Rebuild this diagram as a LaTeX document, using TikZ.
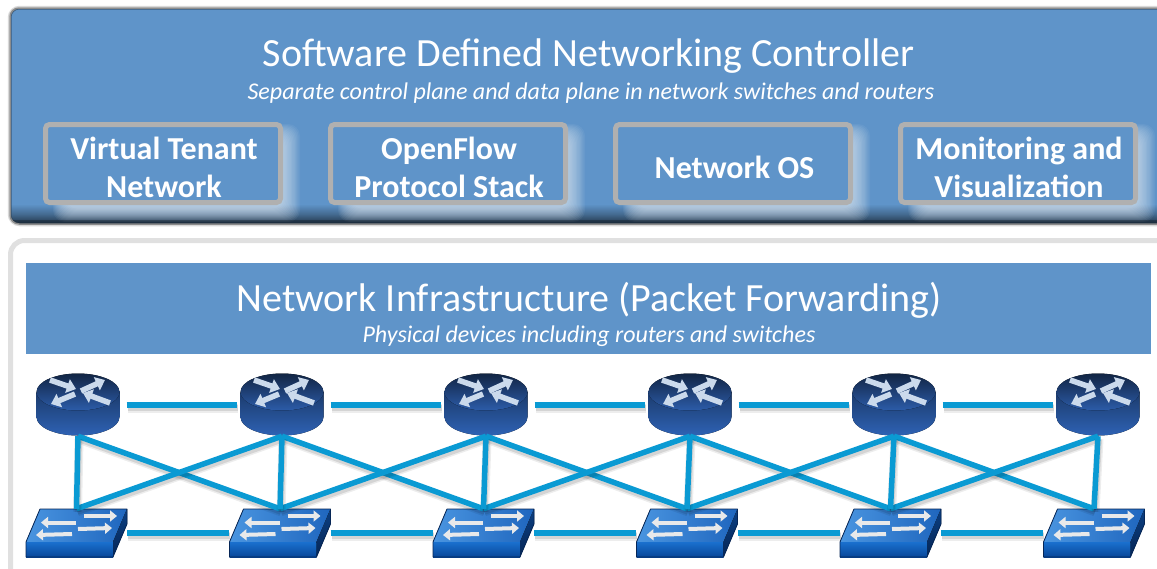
\documentclass[tikz,border=0pt]{standalone}
\usepackage{fontspec}
\setmainfont{Carlito}
\usetikzlibrary{arrows.meta}
\definecolor{panelblue}{HTML}{5F94C9}
\definecolor{linkblue}{HTML}{0A9AD3}
\definecolor{boxgray}{HTML}{B0B0B0}
\definecolor{routerarrow}{HTML}{CBDAEC}
\definecolor{switcharrow}{HTML}{E8E9EA}
\definecolor{routerside}{HTML}{2E62B4}
\definecolor{routertop}{HTML}{2C5CA9}
\definecolor{switchtopl}{HTML}{4A95E0}
\definecolor{switchtopr}{HTML}{1F66BE}
\definecolor{switchfrontt}{HTML}{1A70CE}
\definecolor{switchfrontb}{HTML}{08479A}
\definecolor{switchsidet}{HTML}{0B3F82}
\definecolor{switchsideb}{HTML}{062656}
\tikzset{
  x=1pt,y=-1pt,
  titletext/.style={text=white,font=\fontsize{40}{44}\selectfont,inner sep=0},
  subtext/.style={text=white,font=\itshape\fontsize{24}{28}\selectfont,inner sep=0},
  boxtext/.style={text=white,font=\bfseries\fontsize{32}{37.5}\selectfont,align=center,inner sep=0},
  modulebox/.style={draw=boxgray,line width=5pt,rounded corners=4pt,fill=panelblue,minimum width=235pt,minimum height=78pt,inner sep=0},
  routerbox/.style={minimum width=83pt,minimum height=62pt,inner sep=0},
  switchbox/.style={minimum width=101pt,minimum height=48pt,inner sep=0},
  link/.style={draw=linkblue,line width=5.5pt,
    preaction={draw=black,draw opacity=.07,line width=9pt,transform canvas={shift={(1pt,-3pt)}}},
    preaction={draw=black,draw opacity=.10,line width=6pt,transform canvas={shift={(1pt,-3pt)}}}},
  rarrow/.style={draw=routerarrow,line width=5.5pt,-{Triangle[length=9pt,width=14pt]}},
  sarrow/.style={draw=switcharrow,line width=4pt,-{Triangle[length=7pt,width=11pt]}},
}
\newcommand{\drawrouter}[1]{%
  \begin{scope}[shift={(#1,405)}]
    \fill[top color=routerside!60!black,bottom color=routerside] (-41.5,-13) -- (-41.5,12) arc[x radius=41.5,y radius=18.5,start angle=180,end angle=0] -- (41.5,-13) -- cycle;
    \fill[top color=routertop!40!black,bottom color=routertop] (0,-13) ellipse[x radius=41.5,y radius=18.5];
    \draw[rarrow] (-28,-25) -- (-2,-16);
    \draw[rarrow] (3,-14) -- (27,-25);
    \draw[rarrow] (-3,-11) -- (-27,-1);
    \draw[rarrow] (32,-2) -- (5,-12);
  \end{scope}}
\newcommand{\drawswitch}[1]{%
  \begin{scope}[shift={(#1,0)}]
    \fill[left color=switchtopl,right color=switchtopr] (14,509) -- (101,509) -- (87,542) -- (0,542) -- cycle;
    \fill[top color=switchfrontt,bottom color=switchfrontb] (0,542) rectangle (87,557);
    \fill[top color=switchsidet,bottom color=switchsideb] (87,542) -- (101,509) -- (101,524) -- (87,557) -- cycle;
    \draw[line width=.8pt,draw=switchsideb,line join=round] (14,509) -- (101,509) -- (101,524) -- (87,557) -- (0,557) -- (0,542) -- cycle;
    \draw[sarrow] (58,516) -- (91,516);
    \draw[sarrow] (52,529) -- (86,528);
    \draw[sarrow] (50,522.5) -- (15,522.5);
    \draw[sarrow] (46,534) -- (10,535);
  \end{scope}}
\begin{document}
\begin{tikzpicture}
\useasboundingbox (0,0) rectangle (1157,568);
\clip (0,0) rectangle (1157,568);
\fill[white] (0,0) rectangle (1157,568);
% upper panel
\draw[draw=black!15,line width=1.5pt,rounded corners=11pt] (8.5,6.5) rectangle (1180,225.5);
\begin{scope}
  \clip[rounded corners=9pt] (10,8) rectangle (1180,224);
  \fill[panelblue] (10,8) rectangle (1180,224);
  \fill[top color=panelblue,bottom color=panelblue!35!black,middle color=panelblue!72!black] (10,204) rectangle (1180,224);
  \foreach \e in {0,...,13}{
    \foreach \x in {43,328,613,898}{
      \fill[white,fill opacity=.055,rounded corners=12pt] (\x+10+\e,124+\e) rectangle (\x+240+17-\e*1.3,222-\e);
    }
  }
  \draw[draw=black!55!panelblue,line width=3pt,draw opacity=.7,rounded corners=9pt] (10,8) rectangle (1180,224);
  \fill[black,fill opacity=.25] (10,220) rectangle (1180,224);
\end{scope}
\draw[draw=black!45,line width=1.5pt,rounded corners=9pt] (10,8) rectangle (1180,224);
% lower panel
\draw[draw=black!12,line width=5pt,rounded corners=14pt] (10.5,240.5) rectangle (1190,600);
\fill[panelblue] (26,263) rectangle (1151,354);
% titles
\node[titletext] (title) at (588.5,56) {Software Defined Networking Controller};
\node[subtext] (sub) at (591,93) {Separate control plane and data plane in network switches and routers};
\node[titletext] (title2) at (589,300) {Network Infrastructure (Packet Forwarding)};
\node[subtext] (sub2) at (589,336) {Physical devices including routers and switches};
% modules
\node[modulebox] (m1) at (163,163.5) {};
\node[modulebox] (m2) at (448,163.5) {};
\node[modulebox] (m3) at (733,163.5) {};
\node[modulebox] (m4) at (1018,163.5) {};
\node[boxtext] (t1) at (164,167.5) {Virtual Tenant\\Network};
\node[boxtext] (t2) at (449,167.5) {OpenFlow\\Protocol Stack};
\node[boxtext] (t3) at (734.5,167.5) {Network OS};
\node[boxtext] (t4) at (1019,167.5) {Monitoring and\\Visualization};
% devices
\foreach \i/\x in {1/78,2/282,3/486,4/690,5/894,6/1098}{
  \drawrouter{\x}
  \node[routerbox] (r\i) at (\x,405) {};
}
\foreach \i/\x in {1/26,2/229.5,3/433,4/636.5,5/840,6/1043.5}{
  \drawswitch{\x}
  \node[switchbox] (s\i) at (\x+50.5,533) {};
}
% connectors
\foreach \a/\b in {1/2,2/3,3/4,4/5,5/6}{
  \draw[link,shorten <=7pt,shorten >=3pt] (r\a.east) -- (r\b.west);
  \draw[link] (s\a.east) -- (s\b.west);
  \draw[link] (r\a.south) -- (s\b.north);
  \draw[link] (r\b.south) -- (s\a.north);
}
\foreach \i in {1,...,6}{
  \draw[link] (r\i.south) -- (s\i.north);
}
\end{tikzpicture}
\end{document}
